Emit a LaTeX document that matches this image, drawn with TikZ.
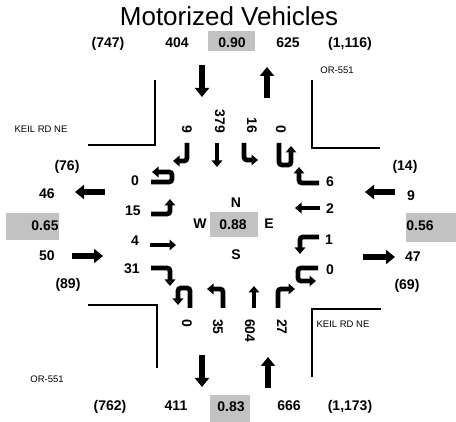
\documentclass[tikz,border=0pt]{standalone}
\usepackage{fontspec}
\setmainfont{Liberation Sans}
\usetikzlibrary{arrows.meta}
\begin{document}
\begin{tikzpicture}[x=1pt,y=-1pt,
  num/.style={font=\fontsize{14}{16}\selectfont\bfseries, inner sep=0pt, text height=10pt, text depth=0pt},
  small/.style={font=\fontsize{9.5}{11}\selectfont, inner sep=0pt, text height=7pt, text depth=0pt},
  gbox/.style={fill=black!24, draw=none},
  road/.style={line width=1.5pt},
  big/.style={line width=6.5pt, -{Triangle[width=14pt,length=9pt]}},
  turn/.style={line width=4.8pt, rounded corners=3pt, -{Triangle[width=10.5pt,length=6.5pt]}},
  rtop/.style={num, rotate=-90, anchor=east},
  rbot/.style={num, rotate=-90, anchor=west},
]
\useasboundingbox (0,0) rectangle (456,422);

% title
\node[inner sep=0pt] (title) at (229,16) {\fontsize{26}{28}\selectfont Motorized Vehicles};

% shaded boxes
\path[gbox] (208,31) rectangle (255,51);
\path[gbox] (6,213) rectangle (59,240);
\path[gbox] (406,213) rectangle (456,242);
\path[gbox] (210,212) rectangle (258,237);
\path[gbox] (210,395) rectangle (250,422);

% top row
\node[num] (tA) at (108,43) {(747)};
\node[num] (tB) at (177,43) {404};
\node[num] (tC) at (232,43) {0.90};
\node[num] (tD) at (288,43) {625};
\node[num] (tE) at (350,43) {(1,116)};

% bottom row
\node[num] (bA) at (110,406) {(762)};
\node[num] (bB) at (176,406) {411};
\node[num] (bC) at (231,407) {0.83};
\node[num] (bD) at (289,406) {666};
\node[num] (bE) at (350,406) {(1,173)};

% left side
\node[num] (lA) at (67,166) {(76)};
\node[num] (lB) at (47,194) {46};
\node[num] (lC) at (45,226) {0.65};
\node[num] (lD) at (47,256) {50};
\node[num] (lE) at (68,284) {(89)};

% right side
\node[num] (rA) at (405,166) {(14)};
\node[num] (rB) at (411,196) {9};
\node[num] (rC) at (420,226) {0.56};
\node[num] (rD) at (413,257) {47};
\node[num] (rE) at (407,285) {(69)};

% centre
\node[num] (cN) at (236,203) {N};
\node[num] (cW) at (200,224) {W};
\node[num] (cV) at (233,225) {0.88};
\node[num] (cE) at (269,224) {E};
\node[num] (cS) at (236,255) {S};

% street labels
\node[small] (kA) at (41,129) {KEIL RD NE};
\node[small] (kB) at (343,324) {KEIL RD NE};
\node[small] (oA) at (337,70) {OR-551};
\node[small] (oB) at (47,379) {OR-551};

% road edges
\draw[road] (155,80) -- (155,145) -- (88,145);
\draw[road] (312,80) -- (312,148) -- (380,148);
\draw[road] (88,305) -- (157,305) -- (157,368);
\draw[road] (381,309) -- (312,309) -- (312,377);

% outer arrows
\draw[big] (202,65) -- (202,97);
\draw[big] (267,98) -- (267,67);
\draw[big] (202,355) -- (202,387);
\draw[big] (268,388) -- (268,357);
\draw[big] (105,192) -- (75,192);
\draw[big] (72,256) -- (103,256);
\draw[big] (395,192) -- (365,192);
\draw[big] (363,257) -- (395,257);

% southbound approach
\node[rtop] (s9) at (187,133) {9};
\node[rtop] (s379) at (220,133) {379};
\node[rtop] (s16) at (252,133) {16};
\node[rtop] (s0) at (281,133) {0};
\draw[turn] (187,143) -- (187,161) -- (173,161);
\draw[turn] (217,143) -- (217,167);
\draw[turn] (244,143) -- (244,160) -- (258,160);
\draw[turn] (279,143) -- (279,165) -- (291,165) -- (291,146);

% eastbound approach
\node[num] (e0) at (135,181) {0};
\node[num] (e15) at (133,211) {15};
\node[num] (e4) at (135,241) {4};
\node[num] (e31) at (132,269) {31};
\draw[turn] (151,182) -- (172,182) -- (172,172) -- (152,172);
\draw[turn] (151,214) -- (170,214) -- (170,199);
\draw[turn] (150,245) -- (176,245);
\draw[turn] (151,268) -- (170,268) -- (170,286);

% westbound approach
\node[num] (w6) at (330,182) {6};
\node[num] (w2) at (330,209) {2};
\node[num] (w1) at (329,240) {1};
\node[num] (w0) at (330,270) {0};
\draw[turn] (319,183) -- (299,183) -- (299,167);
\draw[turn] (320,208) -- (295,208);
\draw[turn] (319,237) -- (300,237) -- (300,254);
\draw[turn] (318,268) -- (298,268) -- (298,281) -- (316,281);

% northbound approach
\node[rbot] (n0) at (187,319) {0};
\node[rbot] (n35) at (218,319) {35};
\node[rbot] (n604) at (250,319) {604};
\node[rbot] (n27) at (282,319) {27};
\draw[turn] (190,308) -- (190,288) -- (178,288) -- (178,305);
\draw[turn] (223,308) -- (223,289) -- (207,289);
\draw[turn] (254,308) -- (254,286);
\draw[turn] (278,308) -- (278,289) -- (295,289);
\end{tikzpicture}
\end{document}
